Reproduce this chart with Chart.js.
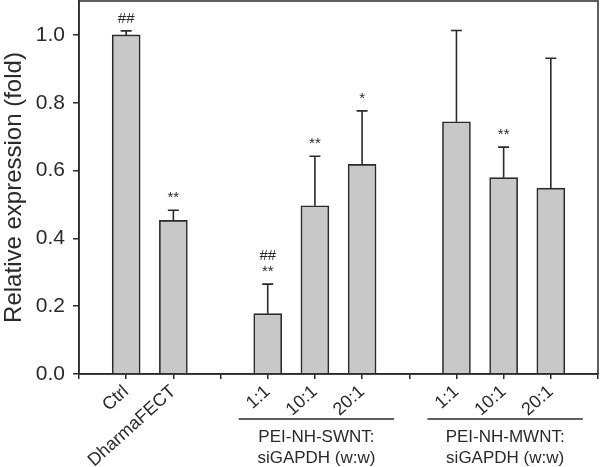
<!DOCTYPE html>
<html>
<head>
<meta charset="utf-8">
<script src="https://cdn.jsdelivr.net/npm/chart.js@4.4.0/dist/chart.umd.min.js"></script>
<style>
  body { margin: 0; background: #fff; }
  #wrap { width: 600px; height: 467px; }
</style>
</head>
<body>
<div id="wrap"><canvas id="chart"></canvas></div>
<script>
// categories (empty slots are gaps / edges)
const categories = ["", "Ctrl", "DharmaFECT", "", "1:1", "10:1", "20:1", "", "1:1", "10:1", "20:1", ""];
const means = [null, 1.0, 0.453, null, 0.178, 0.496, 0.618, null, 0.744, 0.579, 0.548, null];
const errors = [null, 0.012, 0.030, null, 0.087, 0.146, 0.158, null, 0.269, 0.090, 0.383, null];
// significance marks, listed bottom to top
const marks = [[], ["##"], ["**"], [], ["**", "##"], ["**"], ["*"], [], [], ["**"], [], []];
const yTicks = [0, 0.2, 0.4, 0.6, 0.8, 1.0];
const groups = [
    { lines: ["PEI-NH-SWNT:", "siGAPDH (w:w)"], from: 4, to: 6 },
    { lines: ["PEI-NH-MWNT:", "siGAPDH (w:w)"], from: 8, to: 10 }
];

const FONT = "'Liberation Sans', Arial, sans-serif";
const INK = "#2a2a2a";

const extras = {
    id: "extras",
    afterDatasetsDraw(chart) {
        const ctx = chart.ctx;
        const x = chart.scales.x, y = chart.scales.y;
        const area = chart.chartArea;
        ctx.save();
        // error bars (upper only)
        ctx.strokeStyle = INK;
        ctx.lineWidth = 1.6;
        means.forEach((m, i) => {
            if (m === null) return;
            const px = x.getPixelForValue(i);
            const top = y.getPixelForValue(m + errors[i]);
            const base = y.getPixelForValue(m);
            ctx.beginPath();
            ctx.moveTo(px, base);
            ctx.lineTo(px, top);
            ctx.moveTo(px - 5.5, top);
            ctx.lineTo(px + 5.5, top);
            ctx.stroke();
            // significance marks
            ctx.fillStyle = INK;
            ctx.font = "15px " + FONT;
            ctx.textAlign = "center";
            ctx.textBaseline = "middle";
            marks[i].forEach((s, k) => {
                ctx.fillText(s, px, top - 12 - k * 16);
            });
        });
        // frame
        ctx.lineWidth = 1.5;
        ctx.strokeStyle = INK;
        ctx.strokeRect(area.left, area.top, area.right - area.left, area.bottom - area.top);
        // group labels
        ctx.font = "17px " + FONT;
        ctx.fillStyle = INK;
        ctx.textAlign = "center";
        ctx.textBaseline = "middle";
        groups.forEach(g => {
            const x0 = x.getPixelForValue(g.from) - 29;
            const x1 = x.getPixelForValue(g.to) + 32;
            ctx.lineWidth = 1.5;
            ctx.beginPath();
            ctx.moveTo(x0, 419);
            ctx.lineTo(x1, 419);
            ctx.stroke();
            const cx = (x0 + x1) / 2;
            ctx.fillText(g.lines[0], cx, 437);
            ctx.fillText(g.lines[1], cx, 458);
        });
        ctx.restore();
    }
};

new Chart(document.getElementById("chart"), {
    type: "bar",
    data: {
        labels: categories,
        datasets: [{
            data: means,
            backgroundColor: "#c8c8c8",
            borderColor: INK,
            borderWidth: 1.6,
            borderSkipped: "bottom",
            barThickness: 28
        }]
    },
    options: {
        responsive: true,
        maintainAspectRatio: false,
        animation: false,
        layout: { padding: { top: 1, right: 2, left: 0, bottom: 0 } },
        plugins: { legend: { display: false }, tooltip: { enabled: false } },
        scales: {
            x: {
                offset: false,
                afterFit: s => { s.height = 93; s.paddingLeft = 0; s.paddingRight = 0; },
                grid: { offset: false, drawOnChartArea: false, drawTicks: true, tickLength: 5, color: INK, lineWidth: 1.5 },
                border: { display: true, color: INK, width: 1.5 },
                ticks: {
                    autoSkip: false,
                    maxRotation: 42,
                    minRotation: 42,
                    padding: 2,
                    color: INK,
                    font: { family: FONT, size: 18 }
                }
            },
            y: {
                min: 0,
                max: 1.1,
                afterFit: s => { s.width = 79; s.paddingTop = 0; s.paddingBottom = 0; },
                afterBuildTicks: s => { s.ticks = yTicks.map(v => ({ value: v })); },
                grid: { drawOnChartArea: false, drawTicks: true, tickLength: 6, color: INK, lineWidth: 1.5 },
                border: { display: true, color: INK, width: 1.5 },
                ticks: {
                    padding: 8,
                    color: INK,
                    font: { family: FONT, size: 21 },
                    callback: v => Number(v).toFixed(1)
                },
                title: {
                    display: true,
                    text: "Relative expression (fold)",
                    color: INK,
                    font: { family: FONT, size: 24 },
                    padding: { top: 0, bottom: 0 }
                }
            }
        }
    },
    plugins: [extras]
});
</script>
</body>
</html>
